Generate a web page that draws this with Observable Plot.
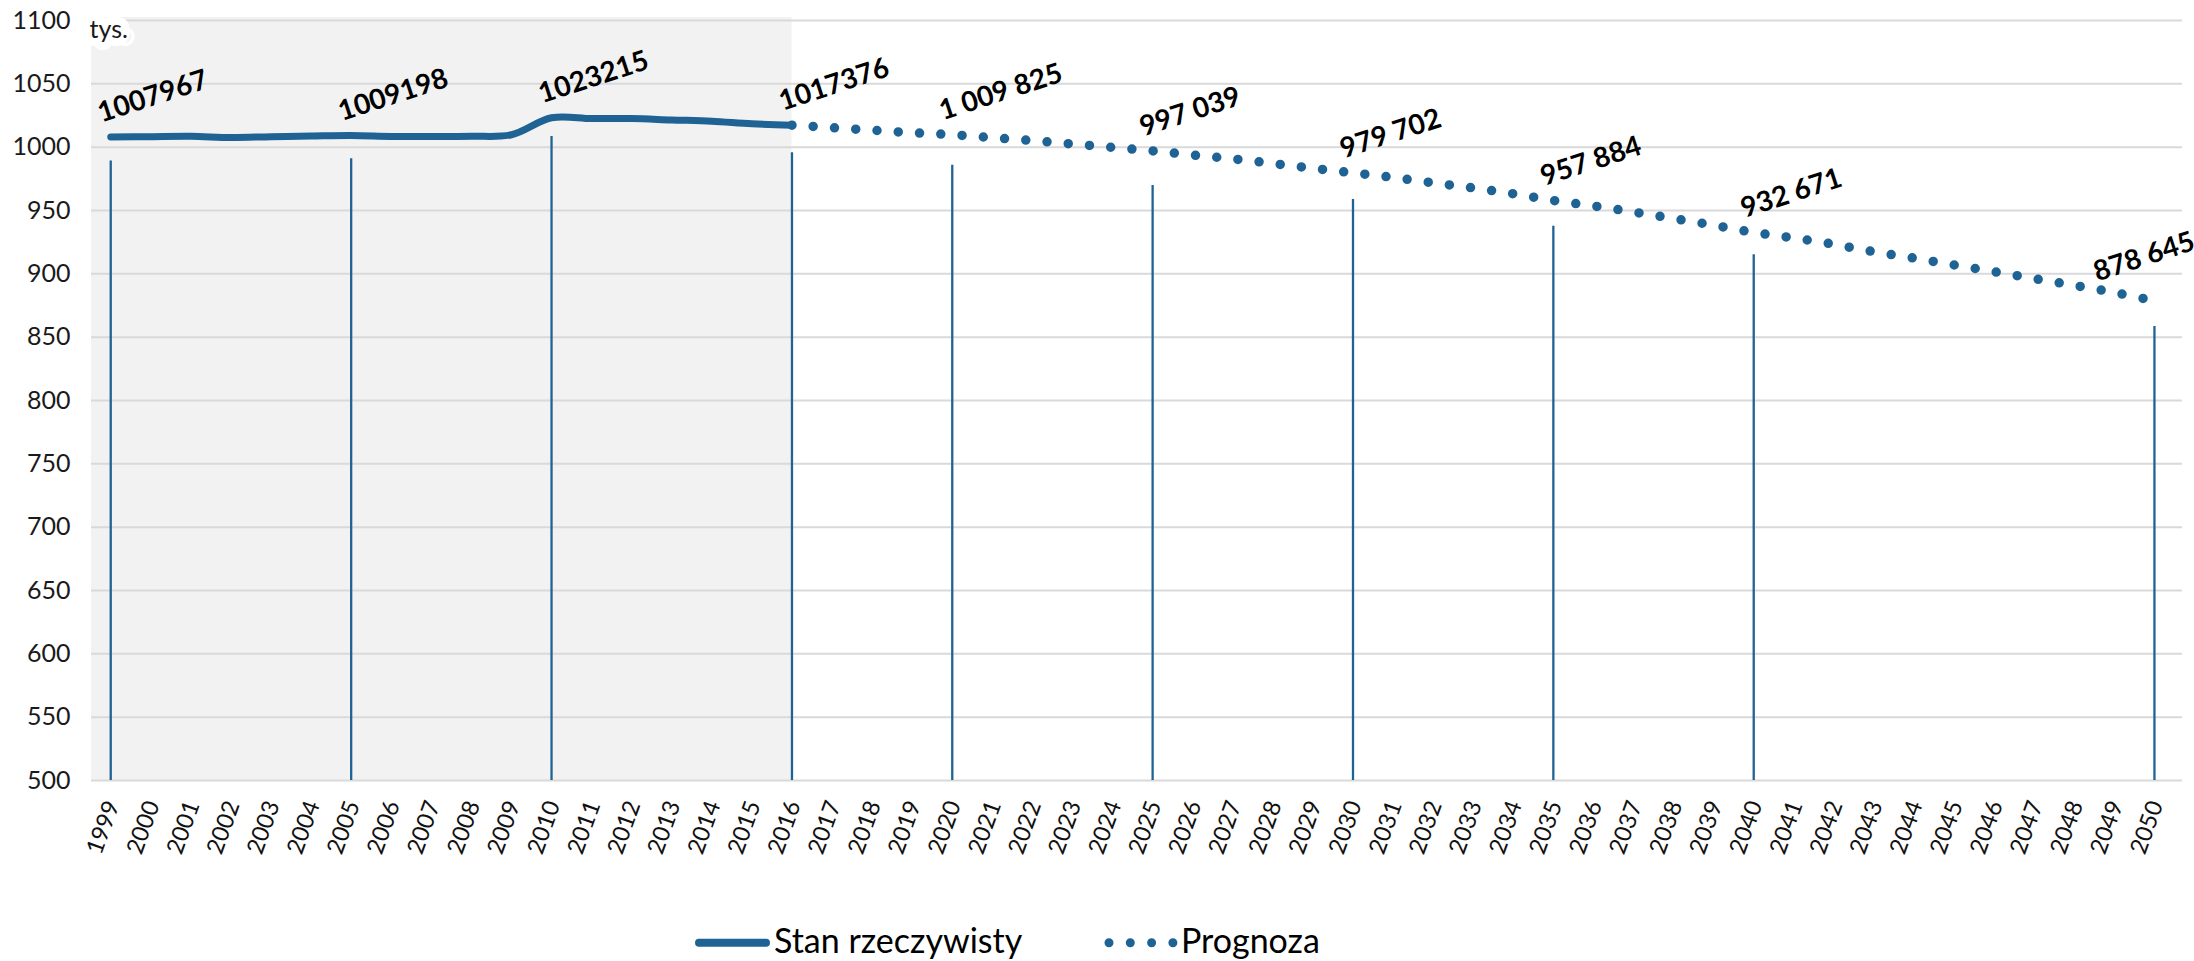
<!DOCTYPE html>
<html>
<head>
<meta charset="utf-8">
<script src="https://cdn.jsdelivr.net/npm/d3@7"></script>
<script src="https://cdn.jsdelivr.net/npm/@observablehq/plot@0.6"></script>
<style>
  html, body { margin: 0; padding: 0; background: #fff; }
  body { width: 2194px; height: 961px; overflow: hidden; font-family: Lato, sans-serif; }
  #chart svg { display: block; }
  #legend { display: block; }
</style>
</head>
<body>
<div id="chart"></div>
<svg id="legend" width="2194" height="61"></svg>
<script>
// ---- data (thousands of people) ----
const actualYears = [1999, 2000, 2001, 2002, 2003, 2004, 2005, 2006, 2007, 2008, 2009, 2010, 2011, 2012, 2013, 2014, 2015, 2016];
const actualValues = [1007.967, 1008.3, 1008.6, 1007.6, 1008.3, 1008.8, 1009.198, 1008.5, 1008.4, 1008.6, 1009.8, 1023.215, 1022.6, 1022.6, 1021.5, 1020.5, 1018.4, 1017.376];

const forecastYears = [2016, 2017, 2018, 2019, 2020, 2021, 2022, 2023, 2024, 2025, 2026, 2027, 2028, 2029, 2030, 2031, 2032, 2033, 2034, 2035, 2036, 2037, 2038, 2039, 2040, 2041, 2042, 2043, 2044, 2045, 2046, 2047, 2048, 2049, 2050];
const forecastValues = [1017.376, 1015.4, 1013.4, 1011.4, 1009.825, 1007.5, 1005.2, 1002.5, 999.8, 997.039, 993.8, 990.8, 987.1, 983.3, 979.702, 976.1, 971.8, 967.8, 963.2, 957.884, 953.6, 948.8, 943.6, 938.4, 932.671, 928.3, 923.3, 917.4, 912.4, 907.0, 901.7, 896.2, 890.9, 885.2, 878.645];

const labelYears = [1999, 2005, 2010, 2016, 2020, 2025, 2030, 2035, 2040, 2050];
const labelValues = [1007967, 1009198, 1023215, 1017376, 1009825, 997039, 979702, 957884, 932671, 878645];
const dropTops = [989.0, 990.8, 1008.4, 995.6, 985.8, 969.8, 958.7, 937.6, 915.1, 858.5];

const yTicks = [500, 550, 600, 650, 700, 750, 800, 850, 900, 950, 1000, 1050, 1100];
const xTickYears = d3.range(1999, 2051);
const yUnit = "tys.";
const seriesNames = ["Stan rzeczywisty", "Prognoza"];

// ---- derived tables ----
const actual = actualYears.map((year, i) => ({year, value: actualValues[i]}));
const forecast = forecastYears.map((year, i) => ({year, value: forecastValues[i]}));
const spaced = d3.formatLocale({decimal: ",", thousands: " ", grouping: [3], currency: ["", ""]}).format(",d");
const lastActual = actualYears[actualYears.length - 1];
const labels = labelYears.map((year, i) => ({
  year,
  value: labelValues[i] / 1000,
  text: year <= lastActual ? String(labelValues[i]) : spaced(labelValues[i])
}));
const drops = labelYears.map((year, i) => ({year, top: dropTops[i]}));
const lastYear = labelYears[labelYears.length - 1];

const blue = "#1f6394";
const xDomain = [1998.52, 2050.7];

const chart = Plot.plot({
  width: 2194,
  height: 900,
  marginLeft: 91,
  marginRight: 12,
  marginTop: 20,
  marginBottom: 120,
  x: {type: "linear", domain: xDomain, axis: null},
  y: {domain: [500, 1100], axis: null},
  style: {fontFamily: "Lato, sans-serif", background: "white", color: "#111", overflow: "visible"},
  marks: [
    // shaded "actual" period
    Plot.rect([{x1: xDomain[0], x2: lastActual, y1: 500, y2: 1100}], {
      x1: "x1", x2: "x2", y1: "y1", y2: "y2", fill: "#f2f2f2", insetTop: -3
    }),
    // gridlines
    Plot.ruleY(yTicks, {stroke: "#d9d9d9", strokeWidth: 2}),
    // unit label with white box
    Plot.text([yUnit], {
      frameAnchor: "top-left", textAnchor: "start", dx: -2, fontSize: 25,
      fill: "#1a1a1a", stroke: "white", strokeWidth: 16, paintOrder: "stroke", strokeLinejoin: "round"
    }),
    // y tick labels
    Plot.text(yTicks, {
      y: d => d, frameAnchor: "left", textAnchor: "end", dx: -21, fontSize: 25, fill: "#1a1a1a", text: d => String(d)
    }),
    // x tick labels
    Plot.text(xTickYears, {
      x: d => d, frameAnchor: "bottom", textAnchor: "end", rotate: -70, dx: 9, dy: 24,
      fontSize: 23.5, fill: "#111", text: d => String(d)
    }),
    // drop lines
    Plot.ruleX(drops, {x: "year", y1: 500, y2: "top", stroke: blue, strokeWidth: 2.3}),
    // forecast (dotted)
    Plot.line(forecast, {
      x: "year", y: "value", curve: "catmull-rom", stroke: blue, strokeWidth: 9.5,
      strokeDasharray: "0 21.3", strokeLinecap: "round"
    }),
    // actual (solid)
    Plot.line(actual, {
      x: "year", y: "value", curve: "catmull-rom", stroke: blue, strokeWidth: 7,
      strokeLinecap: "round", strokeLinejoin: "round"
    }),
    // value labels
    Plot.text(labels.filter(d => d.year !== lastYear), {
      x: "year", y: "value", text: "text", rotate: -18, textAnchor: "start",
      dx: -12, dy: -23, fontSize: 28, fontWeight: "bold", fill: "#000"
    }),
    Plot.text(labels.filter(d => d.year === lastYear), {
      x: "year", y: "value", text: "text", rotate: -18, textAnchor: "start",
      dx: -60, dy: -28, fontSize: 28, fontWeight: "bold", fill: "#000"
    })
  ]
});
document.getElementById("chart").appendChild(chart);

// ---- legend ----
const lg = d3.select("#legend");
lg.append("line").attr("x1", 699).attr("x2", 766).attr("y1", 42.7).attr("y2", 42.7)
  .attr("stroke", blue).attr("stroke-width", 8).attr("stroke-linecap", "round");
lg.append("text").attr("x", 774).attr("y", 53).attr("font-size", 34).attr("font-family", "Lato, sans-serif")
  .attr("fill", "#000").text(seriesNames[0]);
lg.append("line").attr("x1", 1109).attr("x2", 1173).attr("y1", 42.7).attr("y2", 42.7)
  .attr("stroke", blue).attr("stroke-width", 9).attr("stroke-linecap", "round").attr("stroke-dasharray", "0 21.3");
lg.append("text").attr("x", 1181).attr("y", 53).attr("font-size", 34).attr("font-family", "Lato, sans-serif")
  .attr("fill", "#000").text(seriesNames[1]);
</script>
</body>
</html>
